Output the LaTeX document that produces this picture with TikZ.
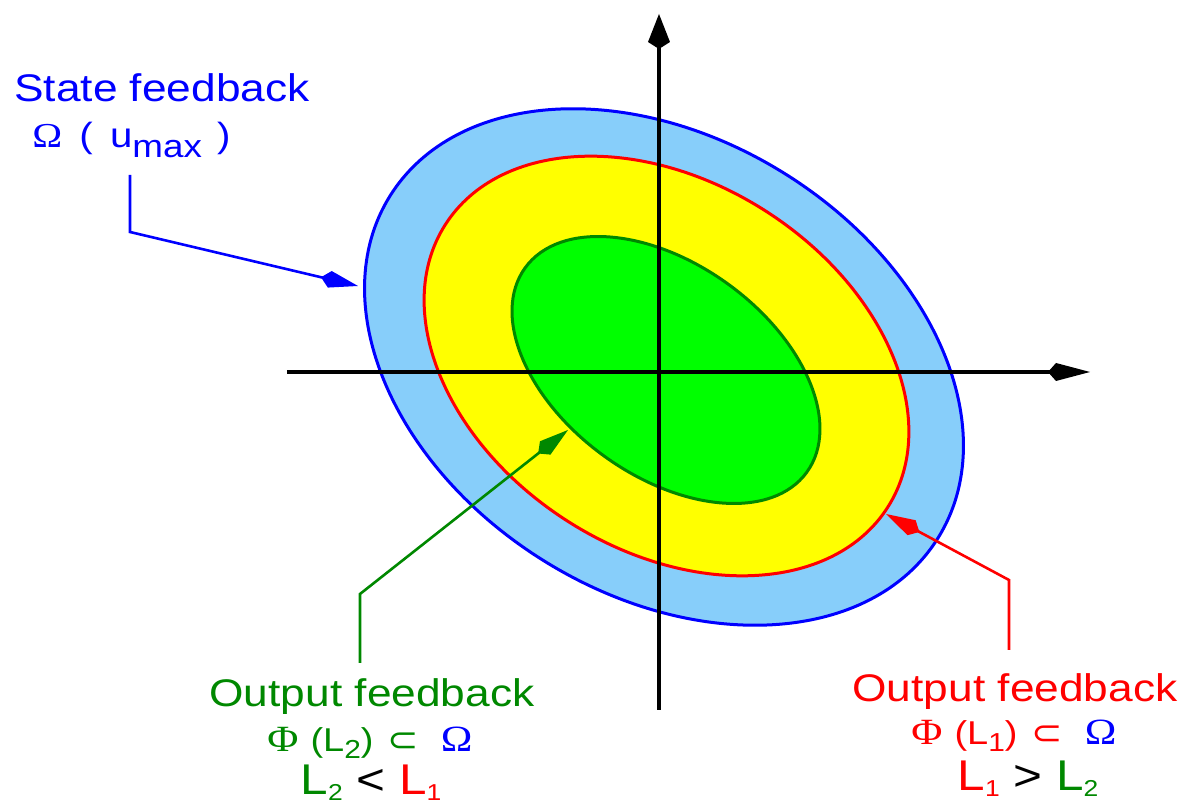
\documentclass[tikz,border=0pt]{standalone}
\usepackage{fontspec}
\setmainfont{Liberation Sans}[FakeStretch=1.15]
\newfontfamily\grk{Liberation Serif}[FakeStretch=1.15]
\newfontfamily\symb{DejaVu Sans}[FakeStretch=1.1]
\usetikzlibrary{arrows.meta}

\definecolor{sfblue}{RGB}{0,0,255}
\definecolor{skyfill}{RGB}{135,206,250}
\definecolor{ofred}{RGB}{255,0,0}
\definecolor{ofyellow}{RGB}{255,255,0}
\definecolor{ofgreen}{RGB}{0,136,0}
\definecolor{limefill}{RGB}{0,255,0}

% indice abaisse : decalage, taille, texte
\newcommand{\lowsub}[3]{\raisebox{-#1}{\fontsize{#2}{#2}\selectfont #3}}
% ligne Phi(L) sous-ensemble de Omega
\newcommand{\phiset}[1]{{\grk\fontsize{18.5pt}{19pt}\selectfont Φ}\hspace{6pt}(L\lowsub{3.5pt}{13pt}{#1})\hspace{7pt}{\symb\fontsize{17pt}{17pt}\selectfont ⊂}\hspace{11pt}\textcolor{sfblue}{\grk\fontsize{18.5pt}{19pt}\selectfont Ω}}

\begin{document}
\begin{tikzpicture}[x=50pt, y=50pt,
    lbl/.style={inner sep=0pt, anchor=base},
    ptr/.style={line width=1.3pt, -{Kite[length=19pt,width=8.5pt,inset=4.5pt]}}]
        \useasboundingbox (-6.59,-4.34) rectangle (5.25,3.72);

        % Ensembles invariants
        \draw[sfblue, fill=skyfill, line width=1.5pt, rotate around={-32:(0.05,0.05)}] (0.05,0.05) ellipse [x radius=3.23, y radius=2.28];
        \draw[ofred, fill=ofyellow, line width=1.5pt, rotate around={-32.6:(0.075,0.06)}] (0.075,0.06) ellipse [x radius=2.625, y radius=1.84];
        \draw[ofgreen, fill=limefill, line width=1.5pt, rotate around={-36:(0.07,0.02)}] (0.07,0.02) ellipse [x radius=1.74, y radius=1.06];

        % Axes
        \draw[line width=2pt, -{Kite[length=21pt,width=9pt,inset=4pt]}] (-3.72,0) -- (4.31,0);
        \draw[line width=2pt, -{Kite[length=17.5pt,width=11pt,inset=3.5pt]}] (0,-3.38) -- (0,3.58);

        % Retour d'etat
        \node[lbl, sfblue, font=\fontsize{19.25pt}{22pt}\selectfont] (sftitle) at (-4.97,2.70) {State feedback};
        \node[lbl, anchor=base west, sfblue, font=\fontsize{17.5pt}{20pt}\selectfont] (sfset) at (-6.27,2.24) {{\grk Ω}\hspace{3pt} (\hspace{3pt} u\lowsub{5pt}{16pt}{max}\hspace{2pt} )};
        \coordinate (sfstart) at (-5.29,1.97);
        \coordinate (sfknee) at (-5.29,1.40);
        \coordinate (sftip) at (-3.01,0.86);
        \draw[ptr, sfblue] (sfstart) -- (sfknee) -- (sftip);

        % Retour de sortie L2
        \node[lbl, ofgreen, font=\fontsize{19.25pt}{22pt}\selectfont] (ogtitle) at (-2.87,-3.35) {Output feedback};
        \node[lbl, ofgreen, font=\fontsize{16.5pt}{18pt}\selectfont] (ogset) at (-2.89,-3.80) {\phiset{2}};
        \node[lbl, font=\fontsize{21.5pt}{24pt}\selectfont] (ogrel) at (-2.88,-4.23) {\textcolor{ofgreen}{L\lowsub{3pt}{11.5pt}{2}} < \textcolor{ofred}{L\lowsub{3pt}{11.5pt}{1}}};
        \coordinate (ogstart) at (-2.99,-2.91);
        \coordinate (ogknee) at (-2.99,-2.22);
        \coordinate (ogtip) at (-0.91,-0.58);
        \draw[ptr, ofgreen] (ogstart) -- (ogknee) -- (ogtip);

        % Retour de sortie L1
        \node[lbl, ofred, font=\fontsize{19.25pt}{22pt}\selectfont] (ortitle) at (3.56,-3.30) {Output feedback};
        \node[lbl, ofred, font=\fontsize{16.5pt}{18pt}\selectfont] (orset) at (3.55,-3.73) {\phiset{1}};
        \node[lbl, font=\fontsize{21.5pt}{24pt}\selectfont] (orrel) at (3.69,-4.19) {\textcolor{ofred}{L\lowsub{3pt}{11.5pt}{1}} > \textcolor{ofgreen}{L\lowsub{3pt}{11.5pt}{2}}};
        \coordinate (orstart) at (3.50,-2.78);
        \coordinate (orknee) at (3.50,-2.08);
        \coordinate (ortip) at (2.27,-1.42);
        \draw[ptr, ofred] (orstart) -- (orknee) -- (ortip);
    \end{tikzpicture}
\end{document}
